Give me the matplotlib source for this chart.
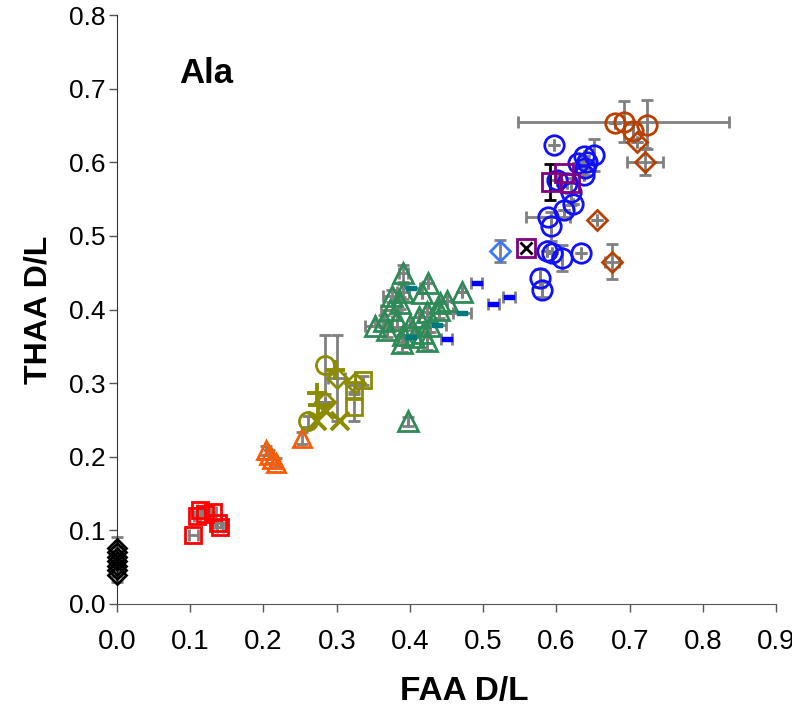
import matplotlib
matplotlib.use('Agg')
import matplotlib.pyplot as plt

# ---- data ----
# FAA D/L = 0 group (black diamonds)
blk_x = [0.0, 0.0, 0.0, 0.0, 0.0, 0.0, 0.0]
blk_y = [0.076, 0.070, 0.064, 0.058, 0.052, 0.046, 0.040]
blk_yerr = [0.015, 0.008, 0.008, 0.008, 0.008, 0.008, 0.01]

red_x = [0.104, 0.109, 0.113, 0.120, 0.131, 0.138, 0.141]
red_y = [0.094, 0.119, 0.128, 0.122, 0.125, 0.110, 0.105]
red_xerr = [0.006, 0.004, 0.004, 0.004, 0.004, 0.004, 0.004]

org_x = [0.204, 0.208, 0.212, 0.217, 0.252]
org_y = [0.209, 0.203, 0.197, 0.192, 0.225]
org_yerr = [0.006, 0.006, 0.006, 0.006, 0.008]

olv_circ_x = [0.284, 0.261]
olv_circ_y = [0.325, 0.248]
olv_circ_yerr = [0.040, 0.008]
olv_dia_x = [0.300, 0.325, 0.284]
olv_dia_y = [0.307, 0.300, 0.275]
olv_dia_xerr = [0.012, 0.0, 0.0]
olv_dia_yerr = [0.058, 0.0, 0.0]
olv_sq_x = [0.336, 0.323, 0.323]
olv_sq_y = [0.304, 0.291, 0.268]
olv_sq_yerr = [0.006, 0.006, 0.02]
olv_plus_x = [0.273, 0.298, 0.275]
olv_plus_y = [0.287, 0.318, 0.270]
olv_x_x = [0.284, 0.273, 0.305]
olv_x_y = [0.264, 0.248, 0.248]

grn_x = [0.391, 0.425, 0.471, 0.375, 0.391, 0.416, 0.387, 0.441, 0.373, 0.423,
         0.439, 0.364, 0.382, 0.400, 0.428, 0.352, 0.368, 0.391, 0.418, 0.389,
         0.423, 0.405, 0.412, 0.450, 0.398]
grn_y = [0.449, 0.436, 0.424, 0.418, 0.424, 0.422, 0.409, 0.409, 0.399, 0.397,
         0.399, 0.384, 0.386, 0.379, 0.377, 0.377, 0.372, 0.366, 0.368, 0.354,
         0.357, 0.363, 0.390, 0.411, 0.248]
grn_xerr = [0.006, 0.0, 0.0, 0.012, 0.008, 0.0, 0.0, 0.0, 0.012, 0.0,
            0.0, 0.012, 0.0, 0.0, 0.0, 0.014, 0.0, 0.0, 0.010, 0.0,
            0.0, 0.0, 0.0, 0.0, 0.0]
grn_yerr = [0.012, 0.0, 0.0, 0.008, 0.010, 0.0, 0.008, 0.0, 0.0, 0.0,
            0.010, 0.008, 0.010, 0.0, 0.008, 0.0, 0.010, 0.010, 0.0, 0.012,
            0.012, 0.0, 0.0, 0.0, 0.006]

teal_x = [0.402, 0.471, 0.437, 0.402]
teal_y = [0.429, 0.395, 0.379, 0.363]
blu_r_x = [0.491, 0.514, 0.535, 0.450]
blu_r_y = [0.436, 0.408, 0.417, 0.360]

lblu_x = [0.523]
lblu_y = [0.479]

pur_x = [0.559, 0.592, 0.610, 0.619]
pur_y = [0.483, 0.573, 0.585, 0.572]

blk2_x = [0.591]
blk2_y = [0.573]
blk2_yerr = [0.024]

blu_x = [0.596, 0.637, 0.651, 0.630, 0.639, 0.637, 0.601, 0.614, 0.623, 0.610,
         0.589, 0.592, 0.587, 0.594, 0.608, 0.633, 0.578, 0.580, 0.642, 0.620]
blu_y = [0.624, 0.608, 0.610, 0.599, 0.592, 0.583, 0.576, 0.572, 0.544, 0.535,
         0.526, 0.513, 0.479, 0.477, 0.470, 0.477, 0.443, 0.427, 0.600, 0.560]
blu_xerr = [0.0, 0.0, 0.0, 0.0, 0.0, 0.0, 0.0, 0.0, 0.0, 0.0,
            0.030, 0.0, 0.0, 0.0, 0.0, 0.0, 0.0, 0.0, 0.0, 0.0]
blu_yerr = [0.0, 0.0, 0.022, 0.0, 0.0, 0.0, 0.0, 0.0, 0.0, 0.0,
            0.0, 0.020, 0.0, 0.0, 0.018, 0.0, 0.012, 0.010, 0.0, 0.018]

brn_circ_x = [0.680, 0.692, 0.705, 0.724]
brn_circ_y = [0.653, 0.655, 0.642, 0.651]
brn_circ_xerr = [0.0, 0.144, 0.0, 0.0]
brn_circ_yerr = [0.0, 0.028, 0.010, 0.033]
brn_dia_x = [0.710, 0.721, 0.655, 0.676]
brn_dia_y = [0.628, 0.601, 0.522, 0.465]
brn_dia_xerr = [0.0, 0.024, 0.0, 0.010]
brn_dia_yerr = [0.0, 0.018, 0.0, 0.024]

x_ticks = [0.0, 0.1, 0.2, 0.3, 0.4, 0.5, 0.6, 0.7, 0.8, 0.9]
y_ticks = [0.0, 0.1, 0.2, 0.3, 0.4, 0.5, 0.6, 0.7, 0.8]

# ---- plot ----
fig = plt.figure(figsize=(7.92, 7.09), dpi=100)
ax = fig.add_axes([0.1477, 0.1481, 0.8323, 0.8307])

GREY = '#808080'
rect = [(-1, -0.5), (1, -0.5), (1, 0.5), (-1, 0.5), (-1, -0.5)]


def group(x, y, marker, color, xerr=None, yerr=None, ms=12, mew=2, fill='none'):
    # grey error bars underneath, open markers on top
    ax.errorbar(x, y, xerr=xerr, yerr=yerr, fmt='none', ecolor=GREY,
                elinewidth=2, capsize=4, capthick=2, clip_on=False, zorder=2)
    ax.plot(x, y, linestyle='none', marker=marker, ms=ms, mew=mew,
            mec=color, mfc=fill, clip_on=False, zorder=3)


group(blk_x, blk_y, 'D', 'black', yerr=blk_yerr, ms=9)
group(red_x, red_y, 's', '#ff0000', xerr=red_xerr, ms=12)
group(org_x, org_y, '^', '#ff5a00', yerr=org_yerr, ms=13)

olive = '#8c8c00'
group(olv_circ_x, olv_circ_y, 'o', olive, yerr=olv_circ_yerr, ms=13)
group(olv_dia_x, olv_dia_y, 'D', olive, xerr=olv_dia_xerr, yerr=olv_dia_yerr, ms=10)
group(olv_sq_x, olv_sq_y, 's', olive, yerr=olv_sq_yerr, ms=12)
group(olv_plus_x, olv_plus_y, '+', olive, ms=15, mew=2.8)
group(olv_x_x, olv_x_y, 'x', olive, ms=13, mew=2.8)

group(grn_x, grn_y, '^', '#2e8b57', xerr=grn_xerr, yerr=grn_yerr, ms=14)
group(teal_x, teal_y, rect, '#007a80', xerr=0.012, ms=7, mew=1, fill='#007a80')
group(blu_r_x, blu_r_y, rect, '#0000ff', xerr=0.008, ms=7, mew=1, fill='#0000ff')
group(lblu_x, lblu_y, 'D', '#3a78ff', yerr=[0.015], ms=10)
group(blu_x, blu_y, 'o', '#1010ff', xerr=blu_xerr, yerr=blu_yerr, ms=14)
group(pur_x, pur_y, 's', '#800080', ms=13)
ax.plot(pur_x[:1], pur_y[:1], linestyle='none', marker='x', ms=8, mew=2,
        color='black', zorder=4)
ax.errorbar(blk2_x, blk2_y, yerr=blk2_yerr, fmt='none', ecolor='black',
            elinewidth=2, capsize=4, capthick=2, zorder=2)
group(brn_circ_x, brn_circ_y, 'o', '#b84000', xerr=brn_circ_xerr,
      yerr=brn_circ_yerr, ms=14)
group(brn_dia_x, brn_dia_y, 'D', '#b84000', xerr=brn_dia_xerr,
      yerr=brn_dia_yerr, ms=10)

ax.set_xlim(0, 0.9)
ax.set_ylim(0, 0.8)
ax.spines['top'].set_visible(False)
ax.spines['right'].set_visible(False)
ax.spines['left'].set_color('#333333')
ax.spines['bottom'].set_color('#555555')
ax.set_xticks(x_ticks)
ax.set_yticks(y_ticks)
ax.set_xticklabels(['%.1f' % t for t in x_ticks], family='Liberation Sans',
                   fontsize=20)
ax.set_yticklabels(['%.1f' % t for t in y_ticks], family='Liberation Sans',
                   fontsize=19)
ax.tick_params(axis='both', direction='out', length=6, width=1, color='#555555')
ax.tick_params(axis='x', pad=12)
ax.tick_params(axis='y', pad=2)

ax.set_xlabel('FAA D/L', family='Liberation Sans', fontweight='bold',
              fontsize=24)
ax.xaxis.set_label_coords(0.527, -0.122)
ax.set_ylabel('THAA D/L', family='Liberation Sans', fontweight='bold',
              fontsize=23, labelpad=11)
ax.text(0.085, 0.72, 'Ala', family='Liberation Sans', fontweight='bold',
        fontsize=25, va='center')

fig.savefig('out.png', dpi=100)
